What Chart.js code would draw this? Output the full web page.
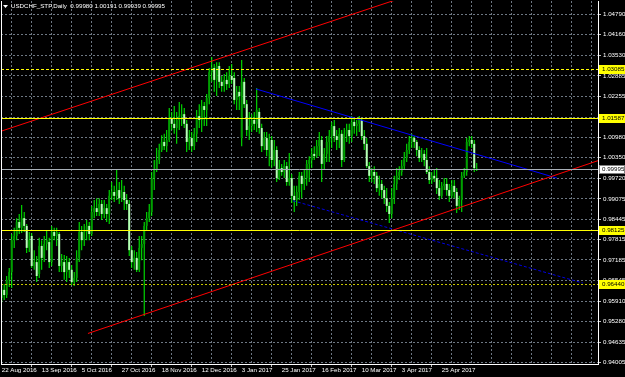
<!DOCTYPE html>
<html>
<head>
<meta charset="utf-8">
<script src="https://cdn.jsdelivr.net/npm/chart.js@4.4.1/dist/chart.umd.min.js"></script>
<style>
html, body { margin: 0; padding: 0; background: #000; }
canvas { display: block; }
</style>
</head>
<body>
<canvas id="chart" width="625" height="377"></canvas>
<script>
const titleText = 'USDCHF_STP,Daily  0.99980 1.00191 0.99939 0.99995';

// bar index of each date label (every 16 daily bars)
const dateBars = [0, 16, 32, 48, 64, 80, 96, 112, 128, 144, 160, 176];
const dateLabels = ['22 Aug 2016', '13 Sep 2016', '5 Oct 2016', '27 Oct 2016', '18 Nov 2016', '12 Dec 2016',
                    '3 Jan 2017', '25 Jan 2017', '16 Feb 2017', '10 Mar 2017', '3 Apr 2017', '25 Apr 2017'];

const priceTicks = [1.04790, 1.04160, 1.03530, 1.02885, 1.02255, 1.01610, 1.00980, 1.00350, 0.99720,
                    0.99075, 0.98445, 0.97815, 0.97185, 0.96545, 0.95910, 0.95280, 0.94635, 0.94005];

const opens = [
  0.9601,0.9626,0.9610,0.9657,0.9681,0.9780,0.9793,0.9836,0.9818,0.9848,
  0.9824,0.9756,0.9793,0.9700,0.9712,0.9675,0.9762,0.9725,0.9768,0.9774,
  0.9712,0.9805,0.9793,0.9799,0.9700,0.9712,0.9681,0.9712,0.9688,0.9650,
  0.9663,0.9725,0.9805,0.9780,0.9805,0.9824,0.9799,0.9867,0.9879,0.9867,
  0.9892,0.9861,0.9879,0.9861,0.9917,0.9929,0.9917,0.9935,0.9910,0.9929,
  0.9904,0.9892,0.9749,0.9712,0.9725,0.9688,0.9756,0.9768,0.9824,0.9848,
  0.9867,0.9972,0.9997,1.0028,1.0059,1.0084,1.0071,1.0090,1.0158,1.0140,
  1.0127,1.0152,1.0164,1.0170,1.0140,1.0084,1.0096,1.0071,1.0109,1.0164,
  1.0152,1.0195,1.0183,1.0220,1.0300,1.0313,1.0276,1.0319,1.0270,1.0257,
  1.0276,1.0263,1.0288,1.0282,1.0214,1.0239,1.0096,1.0270,1.0201,1.0121,
  1.0133,1.0152,1.0140,1.0177,1.0127,1.0071,1.0096,1.0059,1.0090,1.0028,
  1.0059,0.9972,1.0003,0.9991,1.0009,0.9960,0.9972,0.9917,0.9904,0.9929,
  0.9979,0.9954,0.9972,1.0016,1.0028,1.0047,1.0040,1.0071,1.0090,1.0016,
  1.0047,1.0084,1.0102,1.0133,1.0102,1.0090,1.0109,1.0028,1.0109,1.0121,
  1.0102,1.0146,1.0133,1.0140,1.0152,1.0102,1.0078,1.0009,0.9979,0.9991,
  0.9979,0.9941,0.9954,0.9935,0.9910,0.9886,0.9861,0.9910,0.9954,0.9979,
  0.9991,1.0009,1.0034,1.0059,1.0084,1.0096,1.0084,1.0059,1.0034,1.0047,
  1.0028,0.9991,0.9966,0.9979,0.9972,0.9941,0.9917,0.9948,0.9954,0.9935,
  0.9917,0.9948,0.9929,0.9886,0.9904,0.9979,0.9991,1.0084,1.0090,1.0078,
  0.99980
];
const highs = [
  0.9641,0.9644,0.9669,0.9694,0.9799,0.9818,0.9848,0.9861,0.9889,0.9867,
  0.9830,0.9805,0.9802,0.9749,0.9731,0.9787,0.9780,0.9793,0.9811,0.9787,
  0.9824,0.9818,0.9818,0.9805,0.9737,0.9734,0.9731,0.9725,0.9703,0.9681,
  0.9749,0.9836,0.9824,0.9830,0.9842,0.9836,0.9886,0.9904,0.9910,0.9910,
  0.9904,0.9904,0.9892,0.9935,0.9960,0.9948,0.9997,0.9960,0.9966,0.9948,
  0.9923,0.9904,0.9762,0.9749,0.9743,0.9793,0.9793,0.9836,0.9867,0.9892,
  0.9991,1.0028,1.0065,1.0078,1.0105,1.0109,1.0121,1.0189,1.0177,1.0195,
  1.0177,1.0208,1.0201,1.0189,1.0152,1.0121,1.0115,1.0127,1.0183,1.0201,
  1.0214,1.0208,1.0232,1.0313,1.0347,1.0325,1.0331,1.0331,1.0288,1.0294,
  1.0300,1.0319,1.0325,1.0300,1.0257,1.0257,1.0338,1.0282,1.0214,1.0177,
  1.0170,1.0177,1.0251,1.0189,1.0140,1.0115,1.0115,1.0109,1.0102,1.0090,
  1.0071,1.0028,1.0016,1.0028,1.0022,1.0050,0.9985,0.9948,0.9948,0.9991,
  0.9991,0.9997,1.0028,1.0040,1.0065,1.0071,1.0090,1.0115,1.0102,1.0065,
  1.0102,1.0121,1.0146,1.0152,1.0121,1.0127,1.0121,1.0127,1.0140,1.0140,
  1.0164,1.0158,1.0152,1.0164,1.0158,1.0121,1.0096,1.0022,1.0003,1.0009,
  0.9991,0.9979,0.9966,0.9948,0.9941,0.9898,0.9941,0.9979,1.0003,1.0009,
  1.0028,1.0053,1.0078,1.0102,1.0109,1.0102,1.0090,1.0071,1.0065,1.0059,
  1.0065,1.0009,0.9991,0.9997,1.0003,0.9966,0.9960,0.9972,0.9972,0.9954,
  0.9966,0.9966,0.9941,0.9917,0.9991,1.0003,1.0096,1.0102,1.0102,1.0090,
  1.00191
];
const lows = [
  0.9588,0.9595,0.9601,0.9635,0.9632,0.9756,0.9780,0.9799,0.9802,0.9805,
  0.9740,0.9743,0.9694,0.9688,0.9650,0.9663,0.9688,0.9712,0.9749,0.9694,
  0.9700,0.9780,0.9762,0.9681,0.9681,0.9657,0.9650,0.9663,0.9641,0.9638,
  0.9650,0.9712,0.9749,0.9762,0.9780,0.9780,0.9793,0.9848,0.9855,0.9855,
  0.9842,0.9848,0.9836,0.9830,0.9904,0.9898,0.9904,0.9892,0.9898,0.9873,
  0.9873,0.9731,0.9694,0.9688,0.9681,0.9681,0.9718,0.9545,0.9811,0.9836,
  0.9855,0.9935,0.9991,1.0016,1.0053,1.0059,1.0053,1.0084,1.0121,1.0109,
  1.0078,1.0121,1.0133,1.0127,1.0053,1.0059,1.0053,1.0059,1.0084,1.0127,
  1.0115,1.0133,1.0133,1.0201,1.0270,1.0239,1.0226,1.0251,1.0239,1.0239,
  1.0245,1.0251,1.0263,1.0201,1.0183,1.0183,1.0071,1.0189,1.0102,1.0090,
  1.0115,1.0121,1.0115,1.0109,1.0053,1.0059,1.0040,1.0009,1.0003,1.0009,
  0.9960,0.9966,0.9979,0.9972,0.9948,0.9948,0.9895,0.9867,0.9886,0.9904,
  0.9910,0.9935,0.9948,0.9960,1.0003,1.0028,1.0034,1.0040,0.9960,0.9997,
  1.0022,1.0022,1.0065,1.0084,1.0059,1.0065,1.0006,1.0022,1.0084,1.0078,
  1.0084,1.0109,1.0102,1.0115,1.0090,1.0059,1.0003,0.9960,0.9960,0.9954,
  0.9929,0.9917,0.9910,0.9892,0.9867,0.9833,0.9848,0.9892,0.9935,0.9966,
  0.9979,0.9997,1.0022,1.0047,1.0065,1.0065,1.0040,1.0022,1.0022,1.0009,
  0.9985,0.9954,0.9954,0.9960,0.9923,0.9904,0.9910,0.9935,0.9917,0.9898,
  0.9910,0.9910,0.9864,0.9873,0.9867,0.9972,0.9979,1.0071,1.0065,0.9991,
  0.99939
];
const closes = [
  0.9626,0.9610,0.9657,0.9681,0.9780,0.9793,0.9836,0.9818,0.9848,0.9824,
  0.9756,0.9780,0.9700,0.9712,0.9669,0.9762,0.9725,0.9768,0.9780,0.9712,
  0.9805,0.9793,0.9805,0.9700,0.9712,0.9681,0.9712,0.9688,0.9650,0.9663,
  0.9725,0.9805,0.9780,0.9805,0.9824,0.9799,0.9867,0.9879,0.9867,0.9892,
  0.9861,0.9879,0.9861,0.9917,0.9929,0.9917,0.9935,0.9910,0.9929,0.9904,
  0.9892,0.9749,0.9712,0.9725,0.9688,0.9756,0.9768,0.9824,0.9848,0.9867,
  0.9972,0.9997,1.0028,1.0059,1.0084,1.0071,1.0090,1.0158,1.0140,1.0127,
  1.0152,1.0164,1.0170,1.0140,1.0084,1.0096,1.0071,1.0109,1.0164,1.0152,
  1.0195,1.0183,1.0220,1.0300,1.0313,1.0276,1.0319,1.0270,1.0257,1.0276,
  1.0263,1.0288,1.0276,1.0214,1.0239,1.0226,1.0270,1.0201,1.0121,1.0133,
  1.0152,1.0140,1.0183,1.0127,1.0071,1.0096,1.0059,1.0090,1.0028,1.0059,
  0.9972,1.0003,0.9991,1.0009,0.9960,0.9972,0.9917,0.9904,0.9929,0.9979,
  0.9954,0.9972,1.0016,1.0028,1.0047,1.0040,1.0071,1.0090,1.0016,1.0047,
  1.0084,1.0102,1.0133,1.0102,1.0090,1.0109,1.0028,1.0109,1.0121,1.0102,
  1.0146,1.0133,1.0140,1.0152,1.0102,1.0078,1.0009,0.9979,0.9991,0.9979,
  0.9941,0.9954,0.9935,0.9910,0.9886,0.9861,0.9910,0.9954,0.9979,0.9991,
  1.0009,1.0034,1.0059,1.0084,1.0096,1.0084,1.0059,1.0034,1.0047,1.0028,
  0.9991,0.9966,0.9979,0.9972,0.9941,0.9917,0.9948,0.9954,0.9935,0.9917,
  0.9948,0.9929,0.9886,0.9904,0.9979,0.9991,1.0084,1.0090,1.0078,1.0003,
  0.99995
];

// horizontal levels drawn on the chart, bid price
const levels = [1.03085, 1.01587, 0.98125, 0.96440];
const bid = 0.99995;

// trend lines as [bar, price] pairs
const redUpper = [[-0.68, 1.0116], [160, 1.0530]];
const redLower = [[34.5, 0.9491], [238.5, 1.0026]];
const blueUpper = [[101.7, 1.0248], [222.1, 0.9972]];
const blueLower = [[116.5, 0.9902], [232.5, 0.9647]];

const levelColors = ['#ffff00', '#ffff00', '#ffff00', '#c8c800'];
const levelDash = [[3, 2], [], [], [2, 2]];
const bullBody = '#00a000';
const bearBody = '#b8ffb8';
const wickColor = '#00ff00';
const font = { family: 'Liberation Sans', size: 6.2 };

const ctx = document.getElementById('chart');

function toXY(pairs) {
  return pairs.map(p => ({ x: p[0], y: p[1] }));
}

const overlay = {
  id: 'overlay',
  afterDatasetsDraw(chart) {
    const c = chart.ctx;
    const a = chart.chartArea;
    const y = chart.scales.y;
    c.save();
    c.beginPath();
    c.rect(a.left, a.top, a.right - a.left, a.bottom - a.top);
    c.clip();
    c.lineWidth = 1;
    // bid line
    let py = Math.round(y.getPixelForValue(bid)) + 0.5;
    c.strokeStyle = '#a8b0b8';
    c.setLineDash([]);
    c.beginPath(); c.moveTo(a.left, py); c.lineTo(a.right, py); c.stroke();
    levels.forEach((v, i) => {
      py = Math.round(y.getPixelForValue(v)) + 0.5;
      c.strokeStyle = levelColors[i];
      c.setLineDash(levelDash[i]);
      c.beginPath(); c.moveTo(a.left, py); c.lineTo(a.right, py); c.stroke();
    });
    c.restore();
  },
  afterDraw(chart) {
    const c = chart.ctx;
    const a = chart.chartArea;
    const y = chart.scales.y;
    c.save();
    // left frame
    c.strokeStyle = '#ffffff';
    c.lineWidth = 1;
    c.beginPath(); c.moveTo(a.left + 0.5, a.top); c.lineTo(a.left + 0.5, a.bottom); c.stroke();
    // price tags
    c.font = font.size + 'px ' + font.family;
    c.textBaseline = 'middle';
    const tag = (v, bg, border) => {
      const py = Math.round(y.getPixelForValue(v));
      c.fillStyle = bg;
      c.fillRect(a.right + 1, py - 4, 26, 9);
      if (border) {
        c.strokeStyle = border;
        c.strokeRect(a.right + 1.5, py - 3.5, 25, 8);
      }
      c.fillStyle = '#000000';
      c.fillText(v.toFixed(5), a.right + 4, py + 0.5);
    };
    levels.forEach(v => tag(v, levelColors[0]));
    tag(bid, '#ffffff', '#808080');
    // title
    c.fillStyle = '#ffffff';
    c.beginPath(); c.moveTo(3, 5); c.lineTo(8, 5); c.lineTo(5.5, 8); c.closePath(); c.fill();
    c.fillText(titleText, 11, 6.5);
    c.restore();
  }
};

new Chart(ctx, {
  type: 'bar',
  data: {
    datasets: [
      {
        type: 'line', data: toXY(redUpper), borderColor: '#ff0000', borderWidth: 1,
        pointRadius: 0, order: 1
      },
      {
        type: 'line', data: toXY(redLower), borderColor: '#ff0000', borderWidth: 1,
        pointRadius: 0, order: 1
      },
      {
        type: 'line', data: toXY(blueUpper), borderColor: '#0000ff', borderWidth: 1,
        pointRadius: 0, order: 1
      },
      {
        type: 'line', data: toXY(blueLower), borderColor: '#0000e0', borderWidth: 1,
        borderDash: [3, 2], pointRadius: 0, order: 1
      },
      {
        data: lows.map((l, i) => ({ x: i, y: [l, highs[i]] })),
        backgroundColor: wickColor, barThickness: 1, grouped: false,
        inflateAmount: 0, borderWidth: 0, order: 3
      },
      {
        data: opens.map((o, i) => ({ x: i, y: [o, closes[i]] })),
        backgroundColor: opens.map((o, i) => closes[i] >= o ? bullBody : bearBody),
        barThickness: 2, minBarLength: 1, grouped: false,
        inflateAmount: 0, borderWidth: 0, order: 2
      }
    ]
  },
  options: {
    responsive: false,
    animation: false,
    devicePixelRatio: 1,
    layout: { padding: { top: 1, left: 1, right: 0, bottom: 0 } },
    plugins: { legend: { display: false }, tooltip: { enabled: false } },
    scales: {
      x: {
        type: 'linear',
        min: -0.28,
        max: 238.5,
        offset: false,
        afterBuildTicks: scale => {
          const t = [];
          for (let v = 0; v <= 232; v += 8) t.push({ value: v });
          scale.ticks = t;
        },
        afterFit: scale => {
          scale.height = 13;
          scale.paddingLeft = 0;
          scale.paddingRight = 0;
        },
        ticks: {
          autoSkip: false,
          maxRotation: 0,
          align: 'start',
          padding: 0,
          color: '#ffffff',
          font: font,
          callback: v => {
            const k = dateBars.indexOf(v);
            return k >= 0 ? dateLabels[k] : '';
          }
        },
        grid: {
          color: '#6e7883',
          tickLength: 3,
          tickColor: c => (c.tick && dateBars.indexOf(c.tick.value) >= 0) ? '#c0c0c0' : 'rgba(0,0,0,0)'
        },
        border: { display: true, color: '#ffffff', dash: [2, 2] }
      },
      y: {
        position: 'right',
        min: 0.93965,
        max: 1.05203,
        afterBuildTicks: scale => {
          scale.ticks = priceTicks.map(v => ({ value: v }));
        },
        afterFit: scale => {
          scale.width = 27;
          scale.paddingTop = 0;
          scale.paddingBottom = 0;
        },
        ticks: {
          padding: 2,
          color: '#ffffff',
          font: font,
          callback: v => v.toFixed(5)
        },
        grid: { color: '#6e7883', tickLength: 3, tickColor: '#c0c0c0' },
        border: { display: true, color: '#ffffff', dash: [2, 2] }
      }
    }
  },
  plugins: [overlay]
});
</script>
</body>
</html>
